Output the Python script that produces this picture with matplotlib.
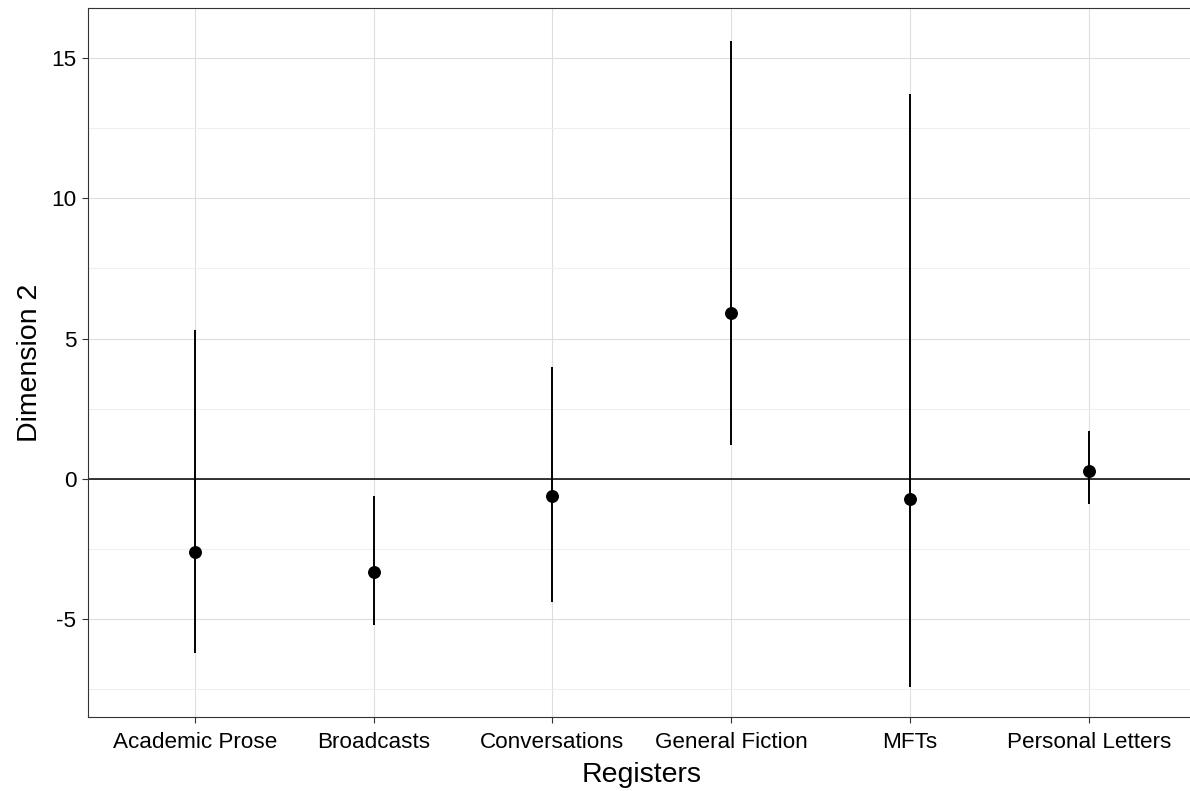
import matplotlib
matplotlib.use("Agg")
import matplotlib.pyplot as plt
import numpy as np

registers = ["Academic Prose", "Broadcasts", "Conversations", "General Fiction", "MFTs", "Personal Letters"]
means = [-2.6, -3.3, -0.6, 5.9, -0.7, 0.3]
lower = [-6.2, -5.2, -4.4, 1.2, -7.4, -0.9]
upper = [5.3, -0.6, 4.0, 15.6, 13.7, 1.7]
yticks = [-5, 0, 5, 10, 15]
yminor = [-7.5, -2.5, 2.5, 7.5, 12.5]

plt.rcParams['font.family'] = ['Liberation Sans', 'DejaVu Sans']

W, H = 1190, 791
fig = plt.figure(figsize=(W/100, H/100), dpi=100)
left, right, top, bottom = 87.5, 1196, 8, 717
ax = fig.add_axes([left/W, 1 - bottom/H, (right-left)/W, (bottom-top)/H])

x = np.arange(1, len(registers)+1)
ax.set_xlim(0.4, 6.6)
ax.set_ylim(-8.48, 16.78)

ax.set_yticks(yticks)
ax.set_yticks(yminor, minor=True)
ax.set_xticks(x)
ax.set_xticklabels(registers)
ax.set_yticklabels([str(v) for v in yticks])

ax.grid(True, which='major', color='#dedede', linewidth=0.8, zorder=0)
ax.grid(True, which='minor', axis='y', color='#efefef', linewidth=0.8, zorder=0)
ax.set_axisbelow(True)

ax.axhline(0, color='black', linewidth=1.1, zorder=2)
ax.vlines(x, lower, upper, color='black', linewidth=1.4, zorder=3)
ax.plot(x, means, 'o', color='black', markersize=8.3, zorder=4)

for s in ax.spines.values():
    s.set_color('#333333')
    s.set_linewidth(0.8)
ax.spines['right'].set_visible(False)

ax.tick_params(axis='both', which='major', color='#333333', length=4, width=0.8,
               labelsize=16.2, labelcolor='black', pad=4)
ax.tick_params(axis='x', which='major', pad=7)
ax.tick_params(axis='both', which='minor', length=0)

ax.set_xlabel("Registers", fontsize=20.5, labelpad=6)
ax.set_ylabel("Dimension 2", fontsize=20.5, labelpad=6)

fig.savefig("out.png", dpi=100)
